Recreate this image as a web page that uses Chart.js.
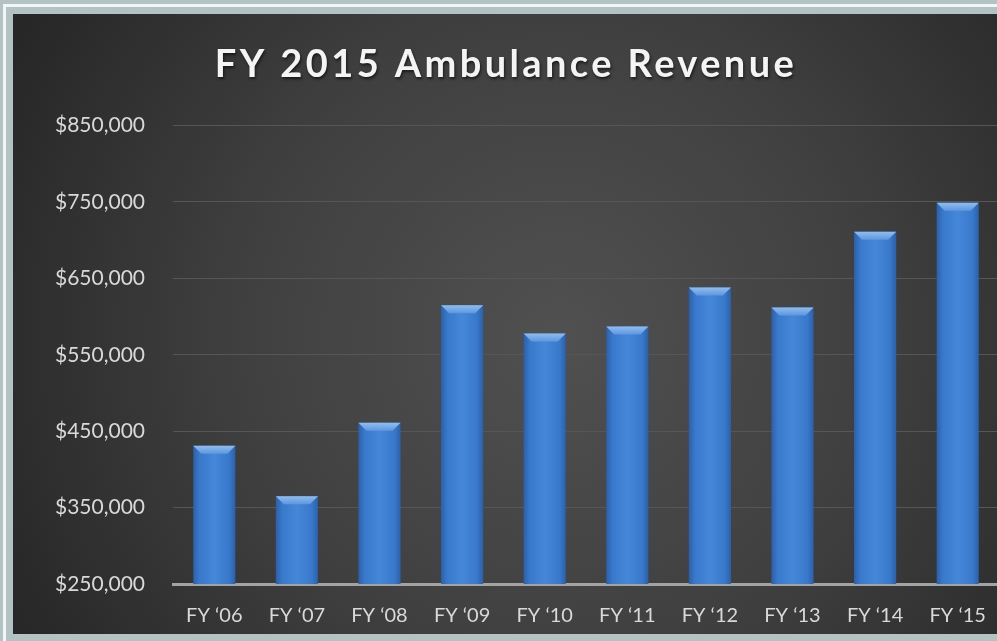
<!DOCTYPE html>
<html>
<head>
<meta charset="utf-8">
<script src="https://cdn.jsdelivr.net/npm/chart.js@4.4.0/dist/chart.umd.min.js"></script>
<style>
  html,body{margin:0;padding:0;}
  body{width:997px;height:641px;overflow:hidden;background:#b3c3c3;position:relative;}
  #frame{position:absolute;left:3px;top:4px;width:1100px;height:700px;border:3px solid #f2f5f5;box-sizing:border-box;}
  #wrap{position:absolute;left:13px;top:14px;width:990px;height:620px;}
</style>
</head>
<body>
<div id="frame"></div>
<div id="wrap"><canvas id="rev"></canvas></div>
<script>
const years=['FY \u201806','FY \u201807','FY \u201808','FY \u201809','FY \u201810','FY \u201811','FY \u201812','FY \u201813','FY \u201814','FY \u201815'];
const revenue=[431000,365000,461000,615000,578000,587000,638000,612000,711000,749000];
const yMin=250000, yMax=850000, yStep=100000;

const FONT='Lato, "Open Sans", sans-serif';

// dark radial background behind the whole chart
const bgPlugin={
  id:'bg',
  beforeDraw(chart){
    const c=chart.ctx, w=chart.width, h=chart.height;
    const g=c.createRadialGradient(w*0.55,h*0.52,10,w*0.55,h*0.52,w*0.62);
    g.addColorStop(0,'#505050');
    g.addColorStop(0.5,'#404040');
    g.addColorStop(1,'#272727');
    c.save();c.fillStyle=g;c.fillRect(0,0,w,h);c.restore();
  }
};

// light bevel on top of each bar
const bevelPlugin={
  id:'bevel',
  afterDatasetsDraw(chart){
    const c=chart.ctx;
    chart.getDatasetMeta(0).data.forEach(el=>{
      const l=el.x-el.width/2, r=el.x+el.width/2, t=el.y, d=8;
      const g=c.createLinearGradient(0,t,0,t+d);
      g.addColorStop(0,'#8fbdf0');g.addColorStop(1,'#5e97de');
      c.save();
      c.fillStyle=g;
      c.beginPath();c.moveTo(l,t);c.lineTo(r,t);c.lineTo(r-d,t+d);c.lineTo(l+d,t+d);c.closePath();c.fill();
      c.restore();
    });
  }
};

function barFill(ctx){
  const chart=ctx.chart, xs=chart.scales.x;
  if(!xs || !chart.chartArea) return '#3d7fd0';
  const cx=xs.getPixelForValue(ctx.dataIndex);
  const hw=xs.width/years.length*0.51/2;
  const g=chart.ctx.createLinearGradient(cx-hw,0,cx+hw,0);
  g.addColorStop(0,'#2b60a9');
  g.addColorStop(0.15,'#3979cc');
  g.addColorStop(0.5,'#4587d8');
  g.addColorStop(0.85,'#3979cc');
  g.addColorStop(1,'#2b60a9');
  return g;
}

const chart=new Chart(document.getElementById('rev'),{
  type:'bar',
  data:{labels:years,datasets:[{data:revenue,backgroundColor:barFill,borderWidth:0,categoryPercentage:1,barPercentage:0.51}]},
  options:{
    responsive:true,maintainAspectRatio:false,animation:false,
    layout:{padding:{left:0,right:4,top:0,bottom:0}},
    plugins:{
      legend:{display:false},tooltip:{enabled:false},
      title:{display:true,text:'FY 2015 Ambulance Revenue',color:'#f4f4f4',
        font:{family:FONT,size:38,weight:'bold'},padding:{top:28,bottom:38}}
    },
    scales:{
      x:{
        grid:{display:false},
        border:{display:true,color:'#a3a3a3',width:3},
        ticks:{color:'#d9d9d9',font:{family:FONT,size:20},padding:12,maxRotation:0},
        afterFit(s){s.height=50;}
      },
      y:{
        min:yMin,max:yMax,
        grid:{color:'#565656',lineWidth:1,drawTicks:false},
        border:{display:false},
        ticks:{stepSize:yStep,color:'#d9d9d9',font:{family:FONT,size:21},padding:28,
          callback:v=>'$'+v.toLocaleString('en-US')},
        afterFit(s){s.width=160;}
      }
    }
  },
  plugins:[bgPlugin,bevelPlugin]
});

// letter spacing and soft shadow for the title only
const tb=chart.titleBlock;
const origDraw=tb.draw.bind(tb);
tb.draw=function(){
  const c=chart.ctx;
  c.save();
  c.letterSpacing='3.4px';
  c.shadowColor='rgba(0,0,0,0.6)';c.shadowOffsetX=1;c.shadowOffsetY=2;c.shadowBlur=3;
  origDraw();
  c.restore();
};
chart.draw();
</script>
</body>
</html>
